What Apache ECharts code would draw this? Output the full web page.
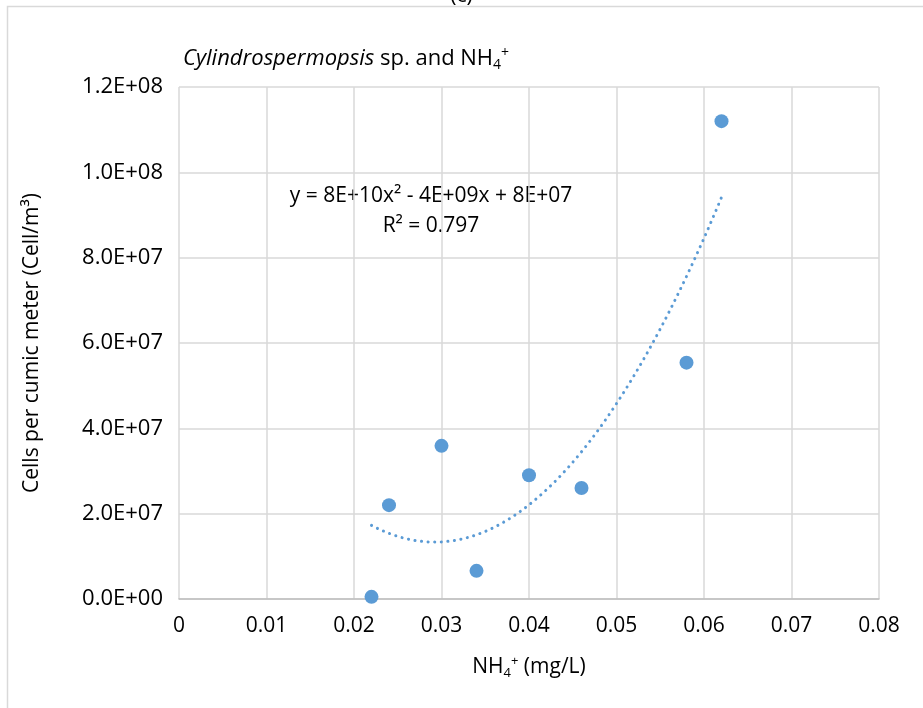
<!DOCTYPE html>
<html>
<head>
<meta charset="utf-8">
<script src="https://cdn.jsdelivr.net/npm/echarts@6/dist/echarts.min.js"></script>
<style>
html,body{margin:0;padding:0;background:#fff;}
#chart{width:923px;height:708px;}
</style>
</head>
<body>
<div id="chart"></div>
<script>
// Data
const nh4 = [0.022, 0.024, 0.030, 0.034, 0.040, 0.046, 0.058, 0.062];
const cells = [0.05e7, 2.2e7, 3.59e7, 0.66e7, 2.9e7, 2.6e7, 5.54e7, 11.2e7];
const xTicks = [0, 0.01, 0.02, 0.03, 0.04, 0.05, 0.06, 0.07, 0.08];
const yTicks = [0, 2e7, 4e7, 6e7, 8e7, 10e7, 12e7];
const equationText = 'y = 8E+10x² - 4E+09x + 8E+07';
const r2Text = 'R² = 0.797';

// Least-squares quadratic fit (like an Excel polynomial trendline, order 2)
function quadFit(xs, ys) {
  let S = [0,0,0,0,0], T = [0,0,0];
  for (let i = 0; i < xs.length; i++) {
    let p = 1;
    for (let k = 0; k < 5; k++) { S[k] += p; if (k < 3) T[k] += p * ys[i]; p *= xs[i]; }
  }
  const A = [[S[0],S[1],S[2],T[0]],[S[1],S[2],S[3],T[1]],[S[2],S[3],S[4],T[2]]];
  for (let c = 0; c < 3; c++) {
    for (let r = c + 1; r < 3; r++) {
      const f = A[r][c] / A[c][c];
      for (let k = c; k < 4; k++) A[r][k] -= f * A[c][k];
    }
  }
  const b = [0,0,0];
  for (let r = 2; r >= 0; r--) {
    let s = A[r][3];
    for (let k = r + 1; k < 3; k++) s -= A[r][k] * b[k];
    b[r] = s / A[r][r];
  }
  return b; // c0, c1, c2
}
const coef = quadFit(nh4, cells);
const xMin = Math.min(...nh4), xMax = Math.max(...nh4);
const trend = [];
for (let i = 0; i <= 80; i++) {
  const x = xMin + (xMax - xMin) * i / 80;
  trend.push([x, coef[0] + coef[1] * x + coef[2] * x * x]);
}

function sci(v) {
  if (v === 0) return '0.0E+00';
  const e = Math.floor(Math.log10(Math.abs(v)) + 1e-9);
  const m = v / Math.pow(10, e);
  return m.toFixed(1) + 'E' + (e >= 0 ? '+' : '-') + String(Math.abs(e)).padStart(2, '0');
}

const FONT = '"Open Sans", "Noto Sans", sans-serif';
const FS = 21;
const chart = echarts.init(document.getElementById('chart'), null, {renderer: 'canvas'});
const color = '#5b9bd5';
const base = {fontFamily: FONT, fontWeight: 'normal', color: '#000'};

chart.setOption({
  backgroundColor: '#ffffff',
  animation: false,
  grid: {left: 179, right: 44, top: 87, bottom: 109, containLabel: false},
  title: {
    left: 178, top: 41,
    text: '{i|Cylindrospermopsis}{n| sp. and NH}{sub|4}{sup|+}',
    textStyle: {
      fontWeight: 'normal',
      rich: {
        i: Object.assign({}, base, {fontStyle: 'italic', fontSize: 22}),
        n: Object.assign({}, base, {fontSize: 22}),
        sub: Object.assign({}, base, {fontSize: 14, verticalAlign: 'bottom', padding: [12,0,0,0]}),
        sup: Object.assign({}, base, {fontSize: 14, verticalAlign: 'top', padding: [0,0,10,0]})
      }
    }
  },
  xAxis: {
    type: 'value', min: 0, max: 0.08, interval: 0.01,
    axisLine: {show: true, lineStyle: {color: '#bfbfbf', width: 1.5}},
    axisTick: {show: false},
    splitLine: {show: true, lineStyle: {color: '#d9d9d9', width: 1.5}},
    axisLabel: {
      margin: 17, fontFamily: FONT, fontSize: FS, color: '#000',
      formatter: v => { const t = xTicks.find(t => Math.abs(t - v) < 1e-9); return t === undefined ? '' : String(+t.toFixed(2)); }
    },
    name: '{n|NH}{sub|4}{sup|+}{n| (mg/L)}',
    nameLocation: 'middle', nameGap: 56,
    nameTextStyle: {
      rich: {
        n: Object.assign({}, base, {fontSize: FS}),
        sub: Object.assign({}, base, {fontSize: 13, verticalAlign: 'bottom', padding: [12,0,0,0]}),
        sup: Object.assign({}, base, {fontSize: 13, verticalAlign: 'top', padding: [0,0,10,0]})
      }
    }
  },
  yAxis: {
    type: 'value', min: 0, max: 12e7, interval: 2e7,
    axisLine: {show: false},
    axisTick: {show: false},
    splitLine: {show: true, lineStyle: {color: '#d9d9d9', width: 1.5}},
    axisLabel: {margin: 16, fontFamily: FONT, fontSize: 22, color: '#000', formatter: v => sci(v)},
    name: 'Cells per cumic meter (Cell/m³)',
    nameLocation: 'middle', nameGap: 136, nameRotate: 90,
    nameTextStyle: {fontFamily: FONT, fontSize: FS, color: '#000'}
  },
  graphic: [
    {type: 'rect', shape: {x: 7.5, y: 6.5, width: 930, height: 720}, style: {fill: 'none', stroke: '#d9d9d9', lineWidth: 1.5}, silent: true},
    {type: 'text', left: 'center', top: -14, style: {text: '(c)', font: FS + 'px ' + FONT, fill: '#000'}},
    {type: 'text', x: 431, y: 196, style: {text: equationText, font: FS + 'px ' + FONT, fill: '#000', align: 'center', verticalAlign: 'middle'}},
    {type: 'text', x: 431, y: 226, style: {text: r2Text, font: FS + 'px ' + FONT, fill: '#000', align: 'center', verticalAlign: 'middle'}}
  ],
  series: [
    {
      type: 'line', data: trend, showSymbol: false, smooth: false, silent: true,
      lineStyle: {color: color, width: 3, type: [0.1, 6.5], cap: 'round'}, z: 2
    },
    {
      type: 'scatter', data: nh4.map((x, i) => [x, cells[i]]),
      symbol: 'circle', symbolSize: 14,
      itemStyle: {color: color, opacity: 1}, z: 3
    }
  ]
});
</script>
</body>
</html>
